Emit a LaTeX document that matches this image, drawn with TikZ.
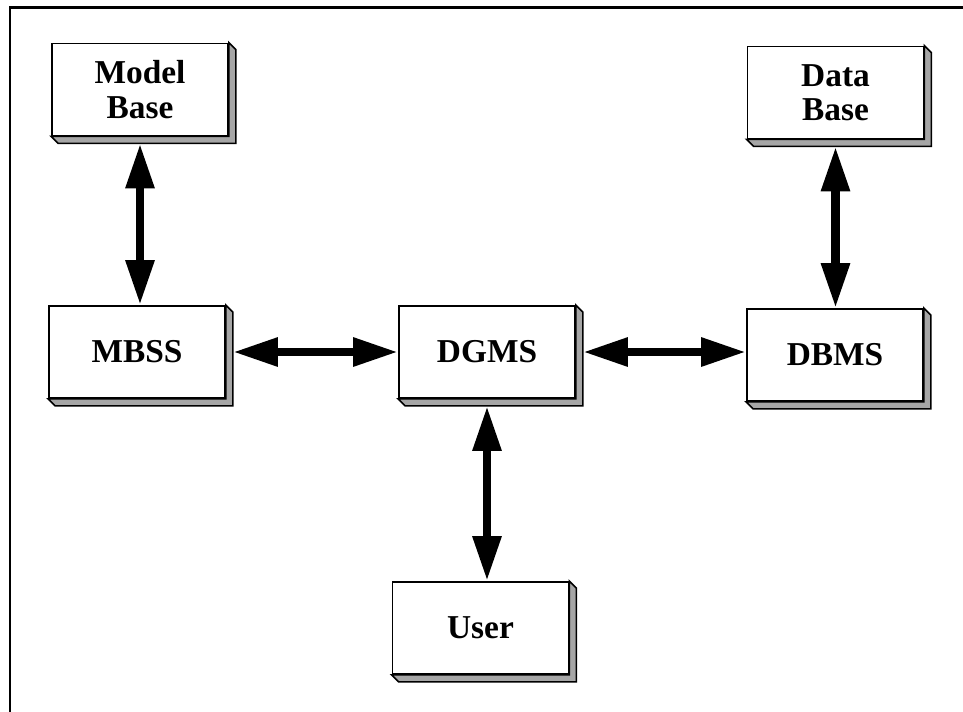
\documentclass[tikz,border=0pt]{standalone}
\usepackage{fontspec}
\setmainfont{Liberation Serif}
\usetikzlibrary{positioning,arrows.meta}

\begin{document}
\begin{tikzpicture}[
  blk/.style={draw, line width=1pt, fill=white, align=center,
              minimum width=3.52cm, minimum height=1.84cm, inner sep=2pt,
              font=\fontsize{19}{19.5}\selectfont\bfseries},
  face/.style={draw, line width=0.9pt, fill=black!35},
  lnk/.style={{Triangle[length=9mm, width=5.4mm]}-{Triangle[length=9mm, width=5.4mm]},
              line width=5pt, shorten <=1.4mm}]
\useasboundingbox (0,0) rectangle (19.26,-14.22);

% ---- outer frame -------------------------------------------------------
\draw[line width=1.7pt] (0.2,-15) |- (20,-0.14);

% ---- the blocks ----------------------------------------------------------
\node[blk] (mb)   at (2.8,-1.79)   {Model\\Base};
\node[blk] (db)   at (16.71,-1.85) {Data\\Base};
\node[blk] (mbss) at (2.74,-7.04)  {MBSS};
\node[blk] (dgms) at (9.74,-7.04)  {DGMS};
\node[blk] (dbms) at (16.7,-7.1)   {DBMS};
\node[blk] (usr)  at (9.61,-12.56) {User};

% shaded side and bottom of each block
\foreach \n in {mb,db,mbss,dgms,dbms,usr}
  \draw[face] (\n.north east) -- ++(0.14,-0.14)
    -- ([shift={(0.14,-0.14)}]\n.south east) -- ([shift={(0.14,-0.14)}]\n.south west)
    -- (\n.south west) -- (\n.south east) -- cycle;

% ---- links ---------------------------------------------------------------
\draw[lnk] (mb.south) -- (mb.south |- mbss.north);
\draw[lnk] (db.south) -- (db.south |- dbms.north);
\draw[lnk] (mbss.east) -- (mbss.east -| dgms.west);
\draw[lnk] (dgms.east) -- (dgms.east -| dbms.west);
\draw[lnk] (dgms.south) -- (dgms.south |- usr.north);

\end{tikzpicture}
\end{document}
